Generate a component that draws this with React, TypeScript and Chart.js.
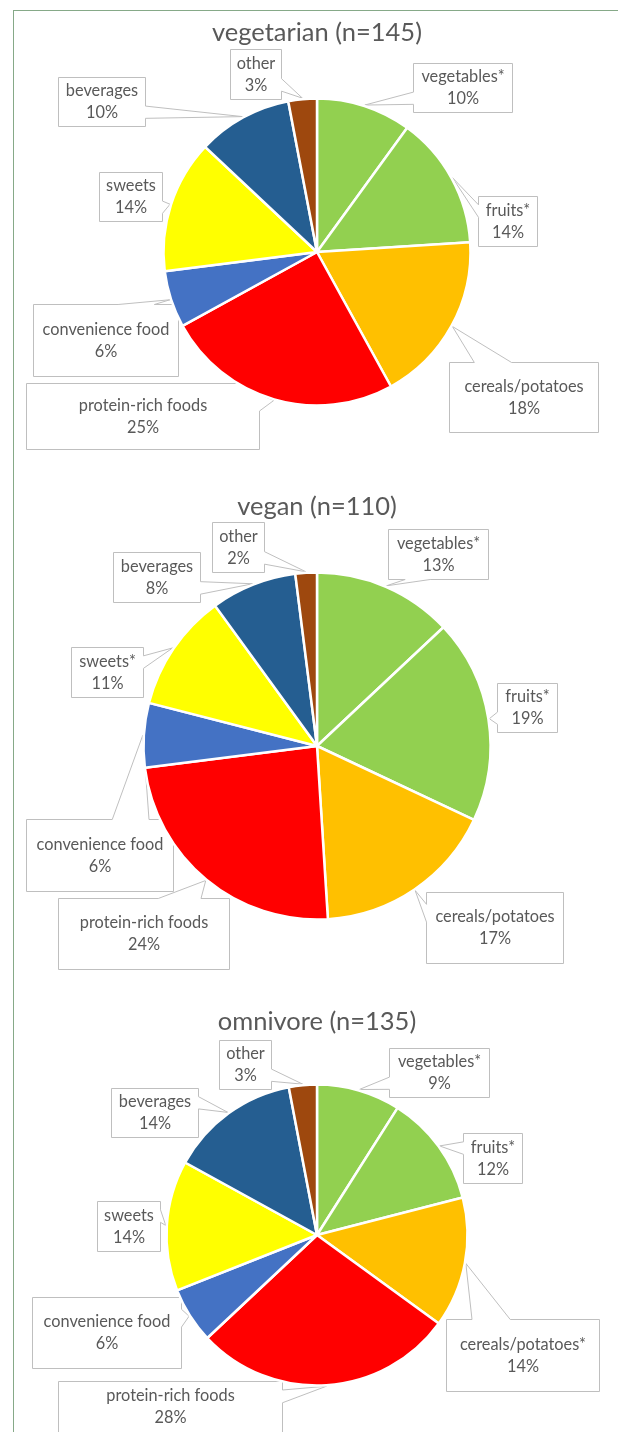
import React, { useEffect, useRef } from "react";
import { Chart, registerables } from "chart.js";

Chart.register(...registerables);

// ---------- data ----------
const TITLES = ["vegetarian (n=145)", "vegan (n=110)", "omnivore (n=135)"];

const CATEGORIES_VEGETARIAN = ["vegetables*", "fruits*", "cereals/potatoes", "protein-rich foods", "convenience food", "sweets", "beverages", "other"];
const VALUES_VEGETARIAN = [10, 14, 18, 25, 6, 14, 10, 3];

const CATEGORIES_VEGAN = ["vegetables*", "fruits*", "cereals/potatoes", "protein-rich foods", "convenience food", "sweets*", "beverages", "other"];
const VALUES_VEGAN = [13, 19, 17, 24, 6, 11, 8, 2];

const CATEGORIES_OMNIVORE = ["vegetables*", "fruits*", "cereals/potatoes*", "protein-rich foods", "convenience food", "sweets", "beverages", "other"];
const VALUES_OMNIVORE = [9, 12, 14, 28, 6, 14, 14, 3];

// ---------- style / layout ----------
const SLICE_COLORS = ["#92D050", "#92D050", "#FFC000", "#FF0000", "#4472C4", "#FFFF00", "#255E91", "#9E480E"];
const TEXT_COLOR = "#595959";
const BOX_BORDER = "#BFBFBF";
const FRAME_COLOR = "#86a988";
const FONT = "Lato, 'Open Sans', sans-serif";
const SLICE_BORDER = 2.5;

type Panel = {
  top: number; height: number; cx: number; cy: number; radius: number; titleY: number;
  boxes: number[][]; // [dx, dy, w, h] relative to pie centre
};

const PANELS: Panel[] = [
  {
    top: 0, height: 475, cx: 317, cy: 252, radius: 153.5, titleY: 33,
    boxes: [[96, -189, 99, 49], [161, -56, 59, 50], [132, 110, 149, 70], [-291, 131, 233, 66],
            [-284, 52, 145, 72], [-218, -80, 63, 49], [-259, -175, 87, 49], [-87, -203, 51, 50]],
  },
  {
    top: 475, height: 510, cx: 317, cy: 271, radius: 173.5, titleY: 32,
    boxes: [[71, -217, 100, 50], [180, -63, 60, 49], [109, 146, 137, 71], [-259, 152, 171, 71],
            [-291, 73, 147, 72], [-246, -99, 72, 50], [-204, -194, 87, 50], [-105, -224, 52, 50]],
  },
  {
    top: 985, height: 447, cx: 317, cy: 250, radius: 150.5, titleY: 37,
    boxes: [[72, -187, 100, 49], [146, -102, 59, 50], [129, 84, 153, 72], [-259, 146, 224, 51],
            [-285, 62, 149, 71], [-220, -34, 63, 50], [-206, -147, 87, 49], [-98, -195, 52, 49]],
  },
];

const SERIES = [
  { labels: CATEGORIES_VEGETARIAN, values: VALUES_VEGETARIAN },
  { labels: CATEGORIES_VEGAN, values: VALUES_VEGAN },
  { labels: CATEGORIES_OMNIVORE, values: VALUES_OMNIVORE },
];

const W = 618;

function fitSize(text: string, target: number) {
  const c = document.createElement("canvas").getContext("2d")!;
  c.font = `100px ${FONT}`;
  const w = c.measureText(text).width;
  return (100 * target) / w;
}

function calloutPath(ctx: CanvasRenderingContext2D, l: number, t: number, w: number, h: number, ax: number, ay: number) {
  const r = l + w, b = t + h;
  const hc = l + w / 2, vc = t + h / 2;
  const dx = ax - hc, dy = ay - vc;
  const dq = (dx * h) / w;
  const dz = Math.abs(dy) - Math.abs(dq);
  const x1 = l + (w * (dx > 0 ? 7 : 2)) / 12, x2 = l + (w * (dx > 0 ? 10 : 5)) / 12;
  const y1 = t + (h * (dy > 0 ? 7 : 2)) / 12, y2 = t + (h * (dy > 0 ? 10 : 5)) / 12;
  const inside = ax >= l && ax <= r && ay >= t && ay <= b;
  const side = inside ? "none" : dz > 0 ? (dy < 0 ? "top" : "bottom") : dx < 0 ? "left" : "right";
  ctx.beginPath();
  ctx.moveTo(l, t);
  if (side === "top") { ctx.lineTo(x1, t); ctx.lineTo(ax, ay); ctx.lineTo(x2, t); }
  ctx.lineTo(r, t);
  if (side === "right") { ctx.lineTo(r, y1); ctx.lineTo(ax, ay); ctx.lineTo(r, y2); }
  ctx.lineTo(r, b);
  if (side === "bottom") { ctx.lineTo(x2, b); ctx.lineTo(ax, ay); ctx.lineTo(x1, b); }
  ctx.lineTo(l, b);
  if (side === "left") { ctx.lineTo(l, y2); ctx.lineTo(ax, ay); ctx.lineTo(l, y1); }
  ctx.closePath();
}

export default function App() {
  const refs = [useRef<HTMLCanvasElement>(null), useRef<HTMLCanvasElement>(null), useRef<HTMLCanvasElement>(null)];

  useEffect(() => {
    const labelSize = fitSize("convenience food", 127);
    const titleSize = fitSize("vegetarian (n=145)", 210);
    const lineGap = 21.6;

    const charts = PANELS.map((p, pi) => {
      const canvas = refs[pi].current!;
      const S = 140;
      const series = SERIES[pi];

      const calloutPlugin = {
        id: "callouts" + pi,
        beforeDatasetsDraw(chart: any) {
          const ctx: CanvasRenderingContext2D = chart.ctx;
          const meta = chart.getDatasetMeta(0);
          const total = series.values.reduce((a: number, b: number) => a + b, 0);
          ctx.save();
          meta.data.forEach((arc: any, i: number) => {
            const { x, y, startAngle, endAngle, outerRadius } = arc.getProps(["x", "y", "startAngle", "endAngle", "outerRadius"], true);
            const mid = (startAngle + endAngle) / 2;
            const ax = x + Math.cos(mid) * (outerRadius + 1);
            const ay = y + Math.sin(mid) * (outerRadius + 1);
            const [bx, by, bw, bh] = p.boxes[i];
            const l = Math.round(x + bx) + 0.5, t = Math.round(y + by) + 0.5;
            calloutPath(ctx, l, t, bw, bh, ax, ay);
            ctx.fillStyle = "#ffffff";
            ctx.fill();
            ctx.strokeStyle = BOX_BORDER;
            ctx.lineWidth = 1;
            ctx.stroke();
            const pct = Math.round((series.values[i] / total) * 100) + "%";
            ctx.fillStyle = TEXT_COLOR;
            ctx.font = `${labelSize}px ${FONT}`;
            ctx.textAlign = "center";
            ctx.textBaseline = "middle";
            const tx = l + bw / 2, ty = t + bh / 2;
            ctx.fillText(series.labels[i], tx, ty - lineGap / 2);
            ctx.fillText(pct, tx, ty + lineGap / 2);
          });
          ctx.restore();
        },
        afterDraw(chart: any) {
          const ctx: CanvasRenderingContext2D = chart.ctx;
          const meta = chart.getDatasetMeta(0);
          const cx = meta.data[0].x;
          ctx.save();
          ctx.fillStyle = TEXT_COLOR;
          ctx.font = `${titleSize}px ${FONT}`;
          ctx.textAlign = "center";
          ctx.textBaseline = "middle";
          ctx.fillText(TITLES[pi], cx, p.titleY);
          ctx.restore();
        },
      };

      return new Chart(canvas, {
        type: "pie",
        data: {
          labels: series.labels,
          datasets: [{
            data: series.values,
            backgroundColor: SLICE_COLORS,
            borderColor: "#ffffff",
            borderWidth: SLICE_BORDER,
            hoverOffset: 0,
          }],
        },
        options: {
          responsive: false,
          animation: false,
          radius: p.radius,
          layout: {
            padding: { left: p.cx - S, right: W - p.cx - S, top: p.cy - S, bottom: p.height - p.cy - S },
          },
          plugins: {
            legend: { display: false },
            tooltip: { enabled: false },
            title: { display: false },
          },
          events: [],
        } as any,
        plugins: [calloutPlugin],
      });
    });

    return () => charts.forEach((c) => c.destroy());
  }, []);

  return (
    <div style={{ position: "absolute", left: 0, top: 0, width: W, height: 1432, overflow: "hidden", background: "#ffffff" }}>
      <div style={{ position: "absolute", left: 13, top: 10, width: 800, height: 1600, borderLeft: `1px solid ${FRAME_COLOR}`, borderTop: `1px solid ${FRAME_COLOR}` }} />
      {PANELS.map((p, i) => (
        <canvas key={i} ref={refs[i]} width={W} height={p.height}
          style={{ position: "absolute", left: 0, top: p.top, width: W, height: p.height }} />
      ))}
    </div>
  );
}
